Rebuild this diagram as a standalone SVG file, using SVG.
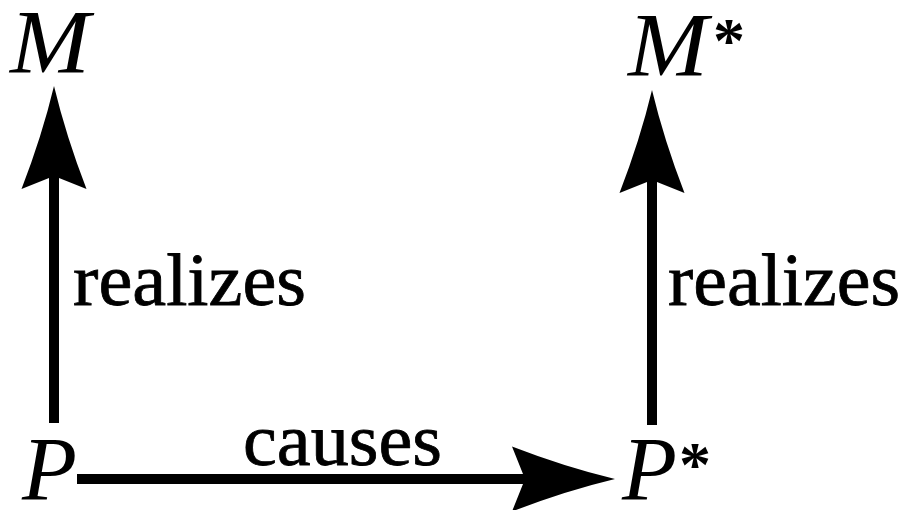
<svg xmlns="http://www.w3.org/2000/svg" width="906" height="510" viewBox="0 0 906 510">
  <style>
    .sym { font-family: "Liberation Serif", "DejaVu Serif", serif; font-style: italic; font-size: 90px; fill: #000; }
    .star { font-size: 64px; font-style: normal; font-weight: bold; }
    .lbl { font-family: "Liberation Serif", "DejaVu Serif", serif; font-size: 75px; fill: #000; stroke: #000; stroke-width: 0.8; }
    .conn { stroke: #000; stroke-width: 10; fill: none; }
  </style>
  <defs>
    <marker id="head" markerUnits="userSpaceOnUse" viewBox="-106 -34 108 68" markerWidth="108" markerHeight="68" refX="-90" refY="0" orient="auto" overflow="visible">
      <path d="M0,0 Q-50,-12 -103,-32.5 L-90,0 L-103,32.5 Q-50,12 0,0 Z" fill="#000"/>
    </marker>
  </defs>
  <rect width="906" height="510" fill="#fff"/>
  <g id="node-M"><text class="sym" x="10" y="73" textLength="80" lengthAdjust="spacingAndGlyphs">M</text></g>
  <g id="node-Mstar"><text class="sym" x="628" y="76"><tspan textLength="80" lengthAdjust="spacingAndGlyphs">M</tspan><tspan class="star" x="713" dy="-14">*</tspan></text></g>
  <g id="node-P"><text class="sym" x="22" y="500">P</text></g>
  <g id="node-Pstar"><text class="sym" x="622" y="500"><tspan>P</tspan><tspan class="star" x="679" dy="-14">*</tspan></text></g>
  <g id="connectors">
    <line class="conn" x1="54" y1="423" x2="54" y2="176" marker-end="url(#head)"/>
    <line class="conn" x1="652" y1="425" x2="652" y2="180" marker-end="url(#head)"/>
    <line class="conn" x1="77" y1="479" x2="525" y2="479" marker-end="url(#head)"/>
    <text class="lbl" x="73" y="305" textLength="233" lengthAdjust="spacingAndGlyphs">realizes</text>
    <text class="lbl" x="668" y="305" textLength="232" lengthAdjust="spacingAndGlyphs">realizes</text>
    <text class="lbl" x="243" y="465" textLength="199" lengthAdjust="spacingAndGlyphs">causes</text>
  </g>
</svg>
